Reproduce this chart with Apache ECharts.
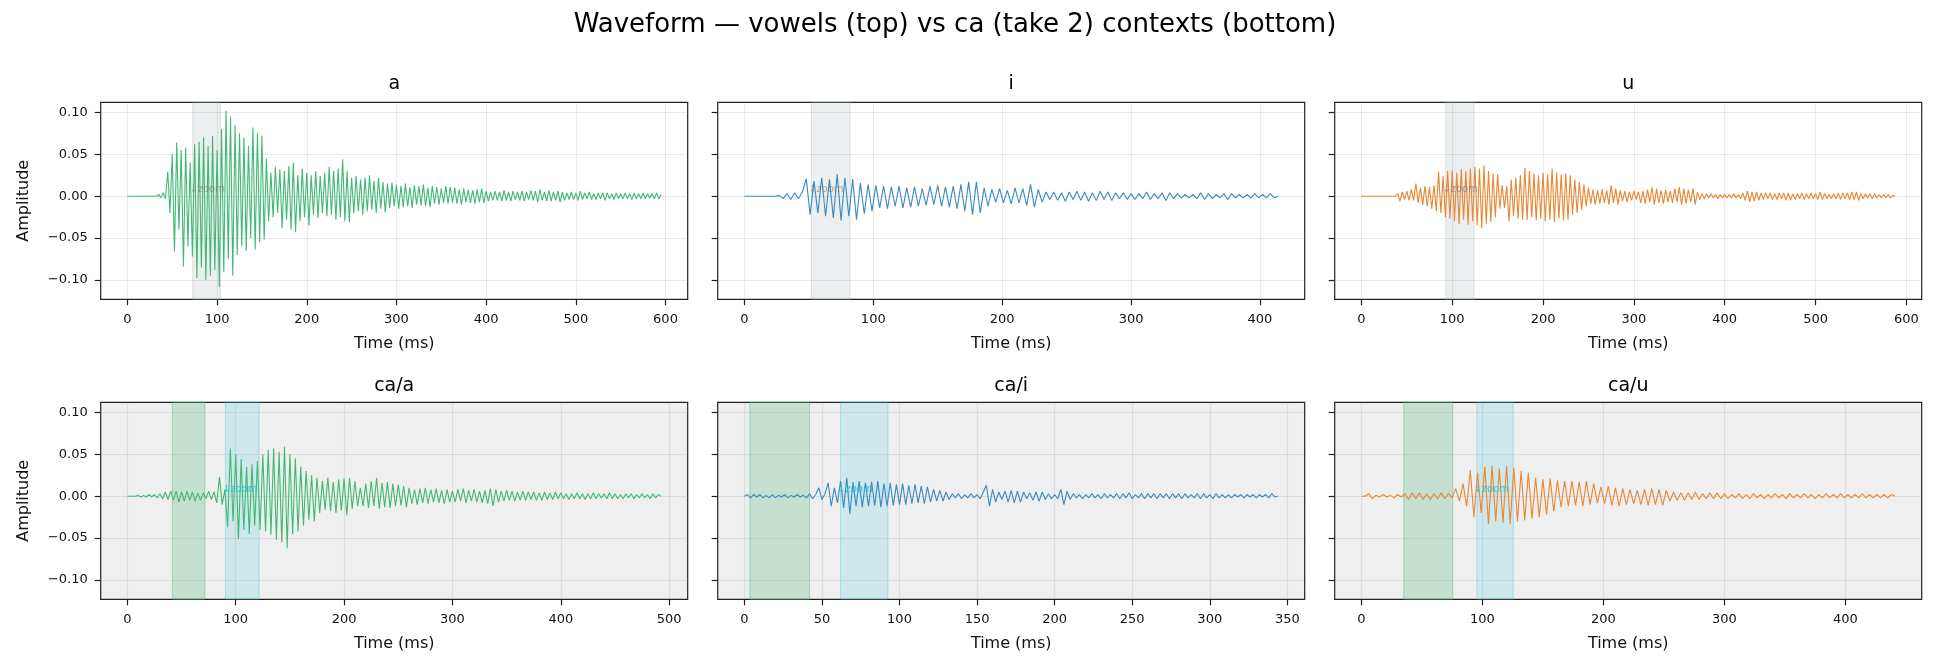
<!DOCTYPE html>
<html>
<head>
<meta charset="utf-8">
<script src="https://cdn.jsdelivr.net/npm/echarts@6/dist/echarts.min.js"></script>
<style>
html,body{margin:0;padding:0;background:#fff}
#chart{width:1936px;height:671px}
</style>
</head>
<body>
<div id="chart"></div>
<script>
// amplitudes in thousandths, one value per sample step (ms)
var aStep = 2.5;
var aWave = [0,0,0,0,0,0,0,0,0,0,0,0,0,0,
  2,-2,4,-3,
  29,-20,50,-66,64,-40,55,-84,58,-60,40,-72,62,-98,65,-85,70,-100,60,-95,
  72,-88,55,-108,80,-90,102,-75,95,-95,85,-70,75,-60,70,-65,60,-50,82,-64,
  75,-55,72,-52,45,-30,28,-25,35,-20,32,-38,30,-28,36,-40,40,-43,25,-30,33,-25,
  28,-35,25,-22,30,-26,24,-20,28,-24,35,-22,30,-28,33,-25,44,-30,30,-31,
  22,-20,24,-18,20,-22,22,-18,25,-16,18,-20,22,-15,17,-19,15,-14,16,-12,
  14,-15,12,-13,15,-12,11,-14,13,-10,12,-11,14,-12,10,-13,12,-9,11,-10,
  9,-8,12,-9,11,-8,10,-9,8,-10,9,-7,8,-8,7,-9,8,-7,9,-8,
  6,-6,5,-5,6,-5,5,-6,7,-5,5,-6,6,-4,5,-5,6,-6,5,-4,
  7,-5,6,-7,8,-5,5,-6,7,-6,5,-5,6,-7,5,-5,4,-4,5,-4,
  4,-5,6,-4,4,-3,5,-4,3,-4,4,-3,4,-5,4,-3,3,-4,4,-3,
  3,-3,4,-3,3,-4,4,-3,3,-3,4,-3,3,-2,3,-3,4,-3,2];

var iStep = 3;
var iWave = [0,0,0,0,0,0,0,0,0,
  1,-3,3,-4,4,-3,5,
  21,-22,18,-20,22,-24,20,-26,26,-29,22,-24,20,-28,16,-21,14,-18,13,-14,12,-15,11,-12,
  12,-14,10,-13,11,-12,9,-11,12,-10,13,-12,11,-13,12,-15,14,-18,17,-22,
  17,-20,10,-12,8,-7,9,-8,7,-9,10,-8,9,-11,14,-13,8,-7,5,-4,
  5,-5,4,-6,5,-4,6,-5,5,-6,4,-5,6,-4,5,-5,4,-3,4,-4,
  3,-4,3,-3,5,-4,3,-3,4,-5,4,-3,3,-2,2,-2,2,-3,4,-4,
  3,-3,2,-2,3,-4,3,-2,2,-2,2,-2,3,-2,2,-2,3,-2,0];

var uStep = 2.5;
var uWave = [0,0,0,0,0,0,0,0,0,0,0,0,0,0,0,0,
  3,-6,5,-4,6,-5,8,-5,15,-8,10,-10,12,-12,11,-15,13,-18,29,-20,
  24,-25,30,-27,31,-30,28,-33,32,-28,30,-34,33,-30,35,-35,33,-38,37,-33,
  30,-31,27,-25,26,-15,13,-14,12,-30,20,-24,22,-27,25,-28,34,-28,30,-25,
  27,-29,25,-27,28,-30,26,-28,33,-31,28,-27,26,-29,27,-28,25,-22,20,-20,
  17,-16,14,-12,10,-9,8,-10,7,-9,8,-8,7,-10,13,-8,9,-10,7,-6,
  6,-7,5,-5,6,-4,5,-8,6,-9,8,-7,11,-10,9,-8,7,-9,8,-7,
  6,-8,9,-7,11,-10,9,-9,8,-7,9,-10,5,-4,3,-3,3,-2,3,-2,
  2,-3,2,-2,2,-2,2,-2,3,-2,2,-3,4,-5,6,-7,5,-6,5,-5,
  4,-4,4,-3,4,-4,3,-4,4,-3,4,-5,4,-5,3,-4,3,-3,4,-4,
  3,-3,4,-3,3,-4,5,-4,3,-3,2,-3,3,-3,4,-4,4,-3,4,-4,
  5,-4,5,-5,3,-3,3,-2,3,-3,3,-2,2,-2,2,-2,2,-2,1,0];

var caAStep = 2.5;
var caAWave = [0,0,0,0,
  1,-1,1,-1,2,-1,2,-2,3,-3,5,-4,6,-5,6,-7,5,-6,6,-5,
  5,-6,4,-5,4,-3,6,-4,5,-8,23,-10,8,-37,57,-30,50,-51,44,-40,
  35,-45,38,-35,42,-40,50,-42,55,-46,57,-52,53,-55,59,-62,50,-45,45,-42,
  35,-35,30,-28,25,-30,22,-20,18,-16,22,-18,17,-20,20,-17,21,-23,22,-15,
  18,-12,10,-12,15,-14,18,-12,22,-15,16,-13,17,-14,15,-12,14,-11,12,-13,
  10,-9,8,-10,9,-8,10,-9,8,-7,9,-8,7,-9,8,-7,6,-7,8,-6,
  9,-8,7,-6,8,-7,6,-8,7,-9,9,-12,8,-7,6,-6,7,-5,6,-6,
  5,-5,6,-5,5,-4,5,-5,4,-5,5,-4,4,-4,5,-3,4,-3,3,-4,
  3,-3,4,-3,3,-4,3,-3,4,-3,3,-2,3,-3,4,-3,3,-3,2,-3,
  3,-2,3,-3,2,-2,3,-2,2,-3,3,-2,2,0];

var caIStep = 2;
var caIWave = [0,
  2,-2,2,-1,2,-2,1,-2,2,-2,1,-1,2,-2,1,-1,2,-1,1,
  -2,3,-3,2,10,-4,3,16,-12,10,-8,18,-14,22,-21,17,-12,18,-13,16,
  -12,17,-11,18,-13,15,-12,16,-11,14,-10,15,-10,13,-9,14,-8,12,-9,11,
  -7,8,-6,7,-6,5,-4,3,-2,3,-3,2,-2,3,-2,2,-3,5,13,-12,
  8,-7,5,-4,6,-7,7,-8,6,-7,5,-3,4,-5,5,-6,5,-4,3,-3,
  2,-3,8,-10,6,-4,3,-2,2,-3,2,-2,3,-2,2,-3,3,-2,2,-2,
  3,-3,3,-2,4,-3,2,-2,3,-3,3,-2,3,-3,3,-2,3,-3,3,-2,
  3,-3,3,-2,2,-2,3,-3,3,-2,2,-3,3,-2,2,-2,2,-2,2,-1,
  2,-2,2,-1,2,-2,2,-1,2,-2,3,-1,0];

var caUStep = 3;
var caUWave = [0,0,3,-3,1,-1,2,-1,1,-2,2,-1,3,-4,4,-3,4,-4,3,-4,
  3,-3,4,-3,3,-2,9,-6,15,-12,31,-25,28,-20,35,-33,36,-30,33,-32,
  36,-33,34,-30,30,-29,28,-27,22,-25,20,-22,21,-18,19,-13,18,-12,18,-11,
  17,-12,18,-10,15,-8,11,-9,12,-11,10,-12,9,-10,8,-9,7,-10,8,-11,
  9,-10,8,-11,7,-6,5,-5,4,-5,4,-4,5,-4,3,-3,4,-3,4,-3,
  3,-3,2,-2,3,-3,2,-3,3,-2,2,-3,2,-2,3,-2,2,-3,3,-2,
  2,-2,3,-2,2,-3,2,-2,3,-2,2,-2,3,-2,2,-2,2,-2,3,-2,
  2,-2,2,-2,2,-2,2,0];

// highlighted regions (ms)
var aSpan = [73, 104];
var iSpan = [52, 82];
var uSpan = [93, 124];
var caAConsonant = [41.5, 71.5], caAVowel = [90.5, 121.5];
var caIConsonant = [3.5, 42], caIVowel = [62, 92.5];
var caUConsonant = [35, 75.5], caUVowel = [95.5, 125.5];

// tick labels
var aTicks = [0, 100, 200, 300, 400, 500, 600];
var iTicks = [0, 100, 200, 300, 400];
var uTicks = [0, 100, 200, 300, 400, 500, 600];
var caATicks = [0, 100, 200, 300, 400, 500];
var caITicks = [0, 50, 100, 150, 200, 250, 300, 350];
var caUTicks = [0, 100, 200, 300, 400];
var yTicks = [-0.1, -0.05, 0, 0.05, 0.1];

var GREEN = 'rgb(66,184,117)', BLUE = 'rgb(58,137,192)', ORANGE = 'rgb(232,135,52)';
var FONT = '"DejaVu Sans", sans-serif';
var GRAY_SPAN = {color:'rgba(149,165,166,0.18)', borderColor:'rgba(149,165,166,0.3)', borderWidth:1};
var CONS_SPAN = {color:'rgba(60,179,113,0.23)', borderColor:'rgba(60,179,113,0.4)', borderWidth:1};
var VOW_SPAN = {color:'rgba(23,190,207,0.15)', borderColor:'rgba(23,190,207,0.3)', borderWidth:1};

var panels = [
  {title:'a', wave:aWave, step:aStep, ticks:aTicks, color:GREEN, spans:[[aSpan, GRAY_SPAN]], zoomAt:aSpan[0], zoomColor:'rgba(110,110,110,0.6)'},
  {title:'i', wave:iWave, step:iStep, ticks:iTicks, color:BLUE, spans:[[iSpan, GRAY_SPAN]], zoomAt:iSpan[0], zoomColor:'rgba(110,110,110,0.6)'},
  {title:'u', wave:uWave, step:uStep, ticks:uTicks, color:ORANGE, spans:[[uSpan, GRAY_SPAN]], zoomAt:uSpan[0], zoomColor:'rgba(110,110,110,0.6)'},
  {title:'ca/a', wave:caAWave, step:caAStep, ticks:caATicks, color:GREEN, spans:[[caAConsonant, CONS_SPAN],[caAVowel, VOW_SPAN]], zoomAt:caAVowel[0], zoomColor:'rgba(23,190,207,0.85)'},
  {title:'ca/i', wave:caIWave, step:caIStep, ticks:caITicks, color:BLUE, spans:[[caIConsonant, CONS_SPAN],[caIVowel, VOW_SPAN]], zoomAt:caIVowel[0], zoomColor:'rgba(23,190,207,0.85)'},
  {title:'ca/u', wave:caUWave, step:caUStep, ticks:caUTicks, color:ORANGE, spans:[[caUConsonant, CONS_SPAN],[caUVowel, VOW_SPAN]], zoomAt:caUVowel[0], zoomColor:'rgba(23,190,207,0.85)'}
];

var colLeft = [100.7, 717.7, 1334.7];
var rowTop = [102.3, 402.3];
var W = 587, H = 197;

var grids = [], xAxes = [], yAxes = [], series = [];
var graphics = [{
  type:'text', x:955, y:25,
  style:{text:'Waveform \u2014 vowels (top) vs ca (take 2) contexts (bottom)', font:'26px ' + FONT, fill:'#000',
         align:'center', verticalAlign:'middle', textAlign:'center', textVerticalAlign:'middle'}
}];

function yFmt(v){
  if (Math.abs(v) < 1e-9) return '0.00';
  return (v < 0 ? '\u2212' : '') + Math.abs(v).toFixed(2);
}

panels.forEach(function(p, k){
  var row = Math.floor(k / 3), col = k % 3;
  var T = (p.wave.length - 1) * p.step;
  grids.push({left:colLeft[col], top:rowTop[row], width:W, height:H, show:true,
    borderColor:'#222', borderWidth:1.2, backgroundColor: row ? '#efefef' : '#fff'});
  xAxes.push({
    type:'value', gridIndex:k, min:-0.05 * T, max:1.05 * T,
    axisLine:{show:false, onZero:false},
    axisTick:{show:true, length:6, lineStyle:{color:'#222', width:1.2}, customValues:p.ticks},
    axisLabel:{customValues:p.ticks, margin:14, fontSize:13, fontFamily:FONT, color:'#111'},
    splitLine:{show:true, lineStyle:{color:'rgba(160,160,160,0.22)', width:1.2}},
    name:'Time (ms)', nameLocation:'middle', nameGap:37,
    nameTextStyle:{fontSize:16, fontFamily:FONT, color:'#111'}
  });
  yAxes.push({
    type:'value', gridIndex:k, min:-0.123, max:0.112,
    axisLine:{show:false, onZero:false},
    axisTick:{show:true, length:6, lineStyle:{color:'#222', width:1.2}, customValues:yTicks},
    axisLabel:{show:col === 0, customValues:yTicks, formatter:yFmt, margin:13, fontSize:13, fontFamily:FONT, color:'#111'},
    splitLine:{show:true, lineStyle:{color:'rgba(160,160,160,0.22)', width:1.2}},
    name: col === 0 ? 'Amplitude' : '', nameLocation:'middle', nameGap:69,
    nameTextStyle:{fontSize:16, fontFamily:FONT, color:'#111'}
  });
  var pts = p.wave.map(function(v, i){ return [i * p.step, v / 1000]; });
  series.push({
    type:'line', xAxisIndex:k, yAxisIndex:k, data:pts,
    symbol:'none', showSymbol:false, silent:true, animation:false,
    lineStyle:{color:p.color, width:1.1}, itemStyle:{color:p.color},
    markArea:{silent:true, data:p.spans.map(function(s){
      return [{xAxis:s[0][0], itemStyle:s[1]}, {xAxis:s[0][1]}];
    })},
    markPoint:{silent:true, symbol:'circle', symbolSize:1, itemStyle:{color:'rgba(0,0,0,0)'},
      data:[{coord:[p.zoomAt, 0]}],
      label:{show:true, formatter:'\u2193zoom', position:[-3, -11], fontSize:10, fontFamily:FONT, color:p.zoomColor}}
  });
  graphics.push({
    type:'text', x:colLeft[col] + W / 2, y:rowTop[row] - (row ? 16 : 18),
    style:{text:p.title, font:'19px ' + FONT, fill:'#000',
           align:'center', verticalAlign:'middle', textAlign:'center', textVerticalAlign:'middle'}
  });
});

var chart = echarts.init(document.getElementById('chart'), null, {renderer:'canvas'});
chart.setOption({
  animation:false,
  backgroundColor:'#fff',
  grid:grids, xAxis:xAxes, yAxis:yAxes, series:series,
  graphic:graphics
});
</script>
</body>
</html>
